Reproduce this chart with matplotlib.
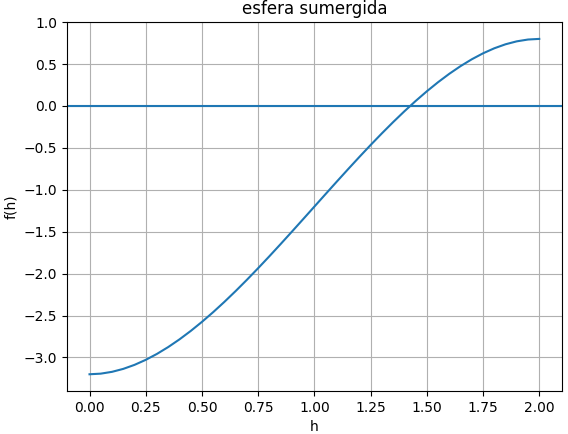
import numpy as np
import matplotlib
matplotlib.use('Agg')
import matplotlib.pyplot as plt

# values
h = [0.0, 0.05, 0.1, 0.15, 0.2, 0.25, 0.3, 0.35, 0.4, 0.45, 0.5, 0.55, 0.6, 0.65,
     0.7, 0.75, 0.8, 0.85, 0.9, 0.95, 1.0, 1.05, 1.1, 1.15, 1.2, 1.25, 1.3, 1.35,
     1.4, 1.45, 1.5, 1.55, 1.6, 1.65, 1.7, 1.75, 1.8, 1.85, 1.9, 1.95, 2.0]
f_h = [-3.2, -3.1926, -3.171, -3.1359, -3.088, -3.0281, -2.957, -2.8754, -2.784,
       -2.6836, -2.575, -2.4589, -2.336, -2.2071, -2.073, -1.9344, -1.792, -1.6466,
       -1.499, -1.3499, -1.2, -1.0501, -0.901, -0.7534, -0.608, -0.4656, -0.327,
       -0.1929, -0.064, 0.0589, 0.175, 0.2836, 0.384, 0.4754, 0.557, 0.6281, 0.688,
       0.7359, 0.771, 0.7926, 0.8]

fig = plt.figure(figsize=(5.68, 4.34), dpi=100)
plt.plot(h, f_h)
plt.axhline(0)
plt.title('esfera sumergida')
plt.xlabel('h')
plt.ylabel('f(h)')
plt.ylim(top=1.0)
plt.grid(True)
plt.subplots_adjust(left=0.118, right=0.989, top=0.949, bottom=0.099)
plt.savefig('out.png')
